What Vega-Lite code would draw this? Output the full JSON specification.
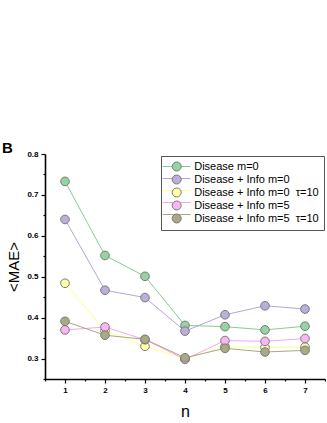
{
  "$schema": "https://vega.github.io/schema/vega-lite/v6.json",
  "width": 280,
  "height": 225,
  "autosize": "none",
  "padding": {"left": 45, "top": 154, "right": 2, "bottom": 44},
  "background": "white",
  "title": {"text": "B", "anchor": "start", "frame": "group", "fontSize": 15, "fontWeight": "bold", "font": "Liberation Sans", "dx": -43, "offset": -6, "color": "black"},
  "config": {"view": {"stroke": null}, "font": "Liberation Sans"},
  "data": {"values": [
    {"n": 1, "v": 0.733, "s": "Disease m=0"},
    {"n": 2, "v": 0.552, "s": "Disease m=0"},
    {"n": 3, "v": 0.501, "s": "Disease m=0"},
    {"n": 4, "v": 0.381, "s": "Disease m=0"},
    {"n": 5, "v": 0.378, "s": "Disease m=0"},
    {"n": 6, "v": 0.370, "s": "Disease m=0"},
    {"n": 7, "v": 0.379, "s": "Disease m=0"},
    {"n": 1, "v": 0.640, "s": "Disease + Info m=0"},
    {"n": 2, "v": 0.467, "s": "Disease + Info m=0"},
    {"n": 3, "v": 0.449, "s": "Disease + Info m=0"},
    {"n": 4, "v": 0.367, "s": "Disease + Info m=0"},
    {"n": 5, "v": 0.407, "s": "Disease + Info m=0"},
    {"n": 6, "v": 0.429, "s": "Disease + Info m=0"},
    {"n": 7, "v": 0.421, "s": "Disease + Info m=0"},
    {"n": 1, "v": 0.484, "s": "Disease + Info m=0\u00a0 τ=10"},
    {"n": 2, "v": 0.368, "s": "Disease + Info m=0\u00a0 τ=10"},
    {"n": 3, "v": 0.330, "s": "Disease + Info m=0\u00a0 τ=10"},
    {"n": 4, "v": 0.299, "s": "Disease + Info m=0\u00a0 τ=10"},
    {"n": 5, "v": 0.329, "s": "Disease + Info m=0\u00a0 τ=10"},
    {"n": 6, "v": 0.327, "s": "Disease + Info m=0\u00a0 τ=10"},
    {"n": 7, "v": 0.328, "s": "Disease + Info m=0\u00a0 τ=10"},
    {"n": 1, "v": 0.370, "s": "Disease + Info m=5"},
    {"n": 2, "v": 0.377, "s": "Disease + Info m=5"},
    {"n": 3, "v": 0.346, "s": "Disease + Info m=5"},
    {"n": 4, "v": 0.298, "s": "Disease + Info m=5"},
    {"n": 5, "v": 0.344, "s": "Disease + Info m=5"},
    {"n": 6, "v": 0.342, "s": "Disease + Info m=5"},
    {"n": 7, "v": 0.349, "s": "Disease + Info m=5"},
    {"n": 1, "v": 0.391, "s": "Disease + Info m=5\u00a0 τ=10"},
    {"n": 2, "v": 0.357, "s": "Disease + Info m=5\u00a0 τ=10"},
    {"n": 3, "v": 0.347, "s": "Disease + Info m=5\u00a0 τ=10"},
    {"n": 4, "v": 0.302, "s": "Disease + Info m=5\u00a0 τ=10"},
    {"n": 5, "v": 0.325, "s": "Disease + Info m=5\u00a0 τ=10"},
    {"n": 6, "v": 0.316, "s": "Disease + Info m=5\u00a0 τ=10"},
    {"n": 7, "v": 0.320, "s": "Disease + Info m=5\u00a0 τ=10"}
  ]},
  "encoding": {
    "x": {"field": "n", "type": "quantitative",
      "scale": {"domain": [0.5, 7.5], "nice": false, "zero": false},
      "axis": {"title": "n", "titleFontSize": 16, "titleFontWeight": "normal", "titleColor": "black", "titlePadding": 9,
        "values": [0.5, 1, 1.5, 2, 2.5, 3, 3.5, 4, 4.5, 5, 5.5, 6, 6.5, 7, 7.5],
        "labelExpr": "datum.value % 1 === 0 ? format(datum.value, 'd') : ''",
        "labelFontSize": 8, "labelFontWeight": "bold", "labelColor": "black", "labelPadding": 3,
        "tickSize": {"condition": {"test": "datum.value % 1 === 0", "value": 4}, "value": 2},
        "tickColor": "black", "tickWidth": 1.2, "domainColor": "black", "domainWidth": 1.6, "grid": false, "labelFlush": false}},
    "y": {"field": "v", "type": "quantitative",
      "scale": {"domain": [0.25, 0.8], "nice": false, "zero": false},
      "axis": {"title": "<MAE>", "titleFontSize": 15, "titleFontWeight": "normal", "titleColor": "black", "titlePadding": 5,
        "values": [0.25, 0.3, 0.35, 0.4, 0.45, 0.5, 0.55, 0.6, 0.65, 0.7, 0.75, 0.8],
        "labelExpr": "abs(datum.value * 10 - round(datum.value * 10)) < 0.001 ? format(datum.value, '.1f') : ''",
        "labelFontSize": 8, "labelFontWeight": "bold", "labelColor": "black", "labelPadding": 3,
        "tickSize": {"condition": {"test": "abs(datum.value * 10 - round(datum.value * 10)) < 0.001", "value": 4}, "value": 2},
        "tickColor": "black", "tickWidth": 1.2, "domainColor": "black", "domainWidth": 1.6, "grid": false, "labelFlush": false}}
  },
  "layer": [
    {"mark": {"type": "line", "strokeWidth": 1},
     "encoding": {
       "color": {"field": "s", "type": "nominal",
         "sort": ["Disease m=0", "Disease + Info m=0", "Disease + Info m=0\u00a0 τ=10", "Disease + Info m=5", "Disease + Info m=5\u00a0 τ=10"],
         "scale": {"range": ["#86cc92", "#b3a6d4", "#ffff8c", "#f5a6ef", "#a8a882"]},
         "legend": {"title": null, "orient": "none", "legendX": 116, "legendY": 2, "padding": 5, "zindex": 0,
           "symbolType": "M-3.1,0H3.1", "symbolSize": 81, "symbolStrokeWidth": 1, "symbolOffset": 5.2,
           "labelOffset": 12, "labelFontSize": 11, "labelExpr": "''", "rowPadding": 0}}
     }},
    {"mark": {"type": "point", "filled": true, "size": 75, "stroke": "#7a7a7a", "strokeWidth": 1, "opacity": 1},
     "encoding": {
       "fill": {"field": "s", "type": "nominal",
         "scale": {"domain": ["Disease m=0", "Disease + Info m=0", "Disease + Info m=0\u00a0 τ=10", "Disease + Info m=5", "Disease + Info m=5\u00a0 τ=10"],
                   "range": ["#95d4a2", "#bbaedb", "#ffffa6", "#f8b6f3", "#a9a984"]},
         "legend": {"title": null, "orient": "none", "legendX": 116, "legendY": 2, "padding": 5, "zindex": 1,
           "symbolType": "circle", "symbolSize": 81, "symbolStrokeColor": "#7a7a7a", "symbolStrokeWidth": 1, "symbolOffset": 5.2,
           "labelOffset": 12, "labelFontSize": 11, "labelColor": "black", "rowPadding": 0,
           "strokeColor": "#555555"}}
     }}
  ]
}
